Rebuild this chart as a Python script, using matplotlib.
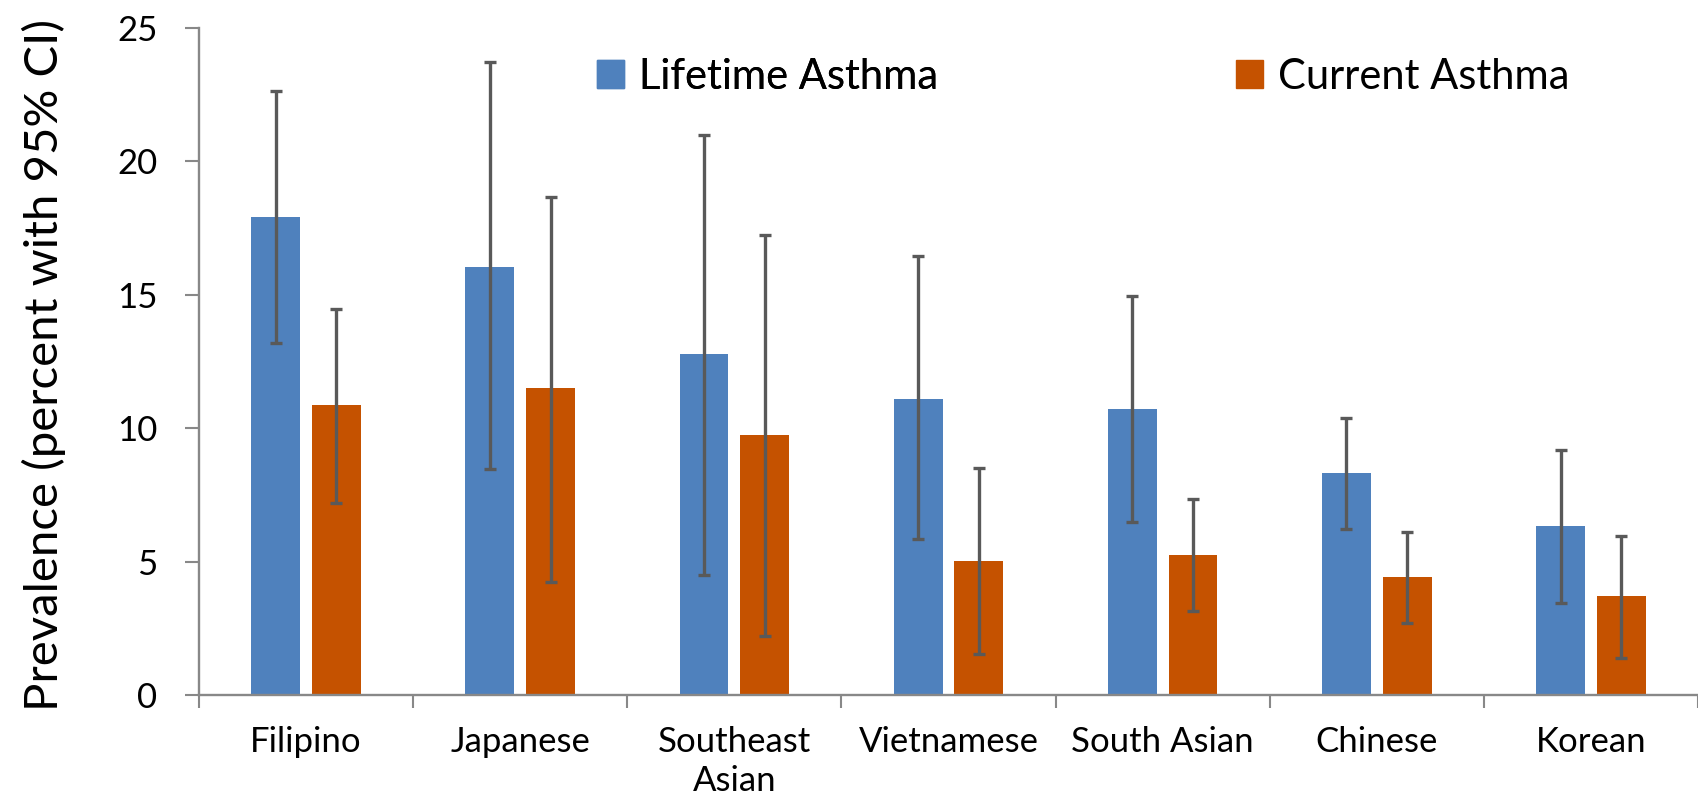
import matplotlib
matplotlib.use('Agg')
import matplotlib.pyplot as plt
import numpy as np
from matplotlib.patches import Patch

# Dados
grupos = ['Filipino', 'Japanese', 'Southeast\nAsian', 'Vietnamese', 'South Asian', 'Chinese', 'Korean']
lifetime = [17.9, 16.05, 12.76, 11.1, 10.7, 8.3, 6.32]
lifetime_lo = [13.2, 8.46, 4.48, 5.83, 6.48, 6.22, 3.45]
lifetime_hi = [22.63, 23.71, 20.99, 16.46, 14.95, 10.37, 9.19]
current = [10.85, 11.5, 9.76, 5.03, 5.24, 4.43, 3.70]
current_lo = [7.18, 4.24, 2.2, 1.53, 3.13, 2.69, 1.40]
current_hi = [14.47, 18.65, 17.23, 8.52, 7.33, 6.12, 5.97]

azul = '#4F81BD'
laranja = '#C55200'
cinza = '#888888'
fonte = 'Lato'

fig = plt.figure(figsize=(16.98, 8.05), dpi=100)
ax = fig.add_axes([0.1172, 0.1366, 1 - 0.1172, 0.9656 - 0.1366])

x = np.arange(len(grupos))
w = 0.228
off = 0.142
err_kw = dict(ecolor='#595959', elinewidth=2.4, capsize=4.2, capthick=2.4)

l_err = [np.array(lifetime) - np.array(lifetime_lo), np.array(lifetime_hi) - np.array(lifetime)]
c_err = [np.array(current) - np.array(current_lo), np.array(current_hi) - np.array(current)]
ax.bar(x - off, lifetime, w, color=azul, yerr=l_err, error_kw=err_kw, zorder=2)
ax.bar(x + off, current, w, color=laranja, yerr=c_err, error_kw=err_kw, zorder=2)

ax.set_xlim(-0.5, 6.392)
ax.set_ylim(0, 25)
ax.set_yticks([0, 5, 10, 15, 20, 25])
ax.set_yticklabels(['0', '5', '10', '15', '20', '25'], fontsize=25, family=fonte)
ax.tick_params(axis='y', length=10, width=1.5, color=cinza, pad=20)
ax.set_xticks(x)
ax.set_xticklabels(grupos, fontsize=25, family=fonte, linespacing=1.3)
ax.set_xticks(np.arange(-0.5, 6.6, 1), minor=True)
ax.tick_params(axis='x', which='major', length=0, pad=22)
ax.tick_params(axis='x', which='minor', length=9, width=1.5, color=cinza)

for s in ['top', 'right']:
    ax.spines[s].set_visible(False)
for s in ['left', 'bottom']:
    ax.spines[s].set_color(cinza)
    ax.spines[s].set_linewidth(1.7)

ax.set_ylabel('Prevalence (percent with 95% CI)', fontsize=34, family=fonte)
ax.yaxis.set_label_coords(-0.0887, 0.494)

# duas legendas separadas, uma para cada série
leg_kw = dict(loc='center left', frameon=False, prop={'family': fonte, 'size': 30}, borderpad=0,
              borderaxespad=0, handlelength=0.65, handleheight=0.65, handletextpad=0.36)
leg1 = fig.legend(handles=[Patch(color=azul, label='Lifetime Asthma')],
                  bbox_to_anchor=(0.3516, 0.9043), **leg_kw)
fig.legend(handles=[Patch(color=laranja, label='Current Asthma')],
           bbox_to_anchor=(0.7279, 0.9043), **leg_kw)
fig.add_artist(leg1)

fig.savefig('out.png', dpi=100)
